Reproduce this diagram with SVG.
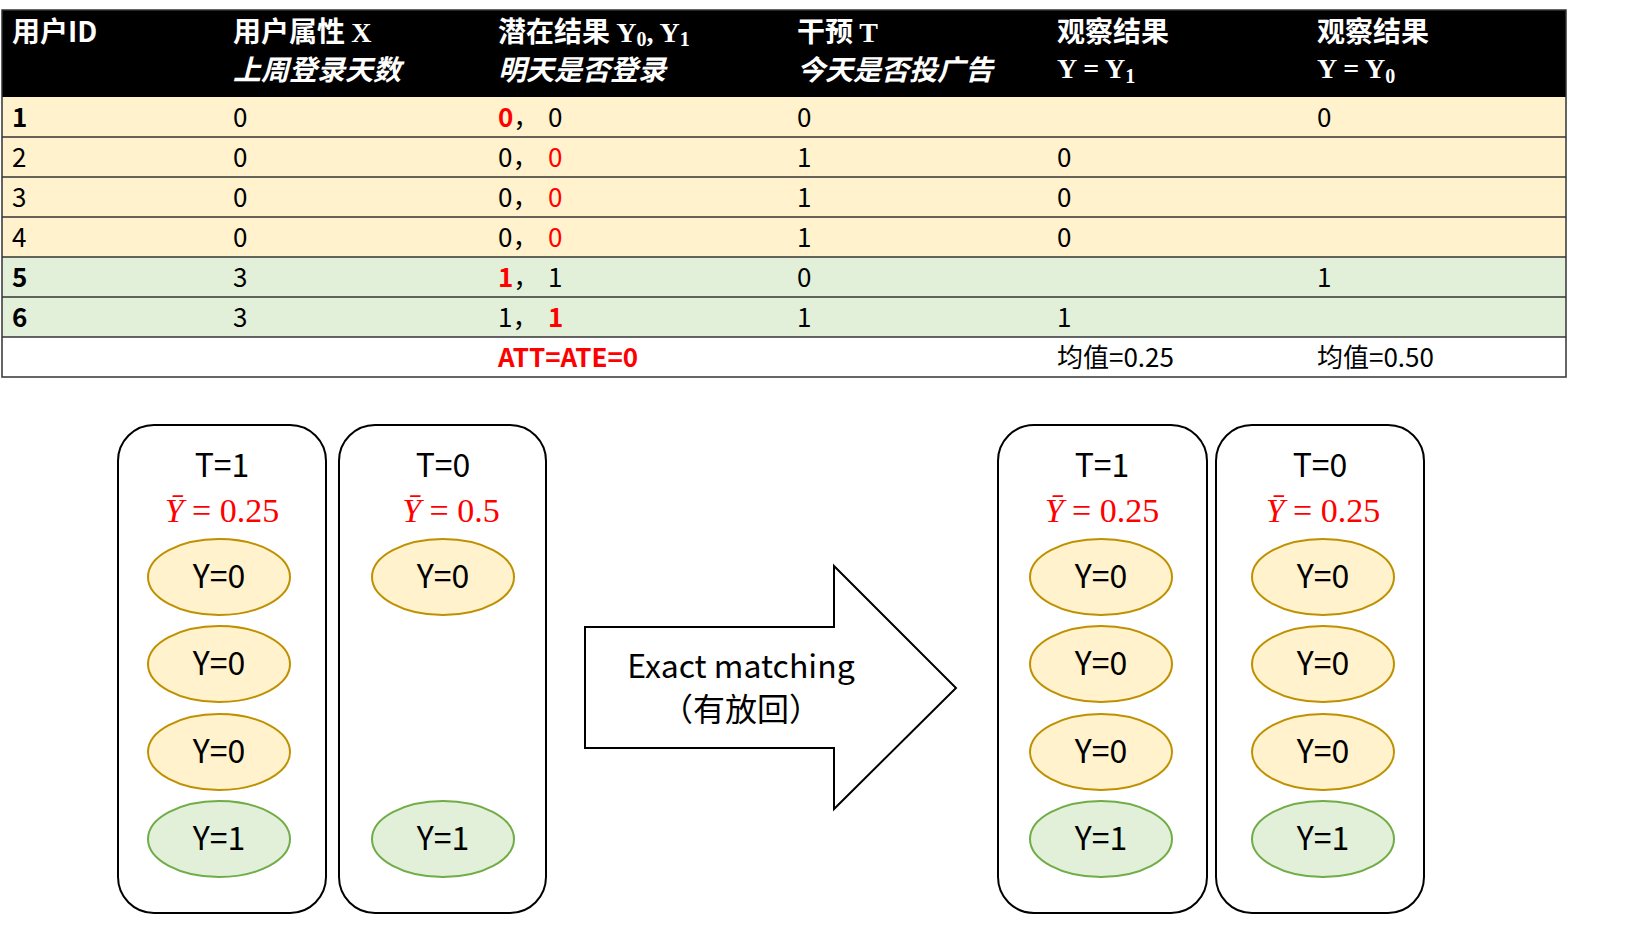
<svg xmlns="http://www.w3.org/2000/svg" width="1630" height="951" viewBox="0 0 1630 951">
<style>
.h{font-family:"Noto Sans CJK SC","Liberation Sans",sans-serif;font-size:28px;fill:#fff;font-weight:bold}
.hi{font-family:"Noto Sans CJK SC",sans-serif;font-size:28px;fill:#fff;font-style:italic;font-weight:bold}
.hs{font-family:"Liberation Serif",serif;font-size:28px;fill:#fff;font-weight:bold}
.c{font-family:"Noto Sans CJK SC","Liberation Sans",sans-serif;font-size:26px;fill:#000}
.b{font-weight:bold}
.r{fill:#f00}
.t{font-family:"Noto Sans CJK SC","Liberation Sans",sans-serif;font-size:32px;fill:#000;text-anchor:middle}
.m{font-family:"Liberation Serif",serif;font-size:34px;fill:#f00;text-anchor:middle}
.box{fill:#fff;stroke:#000;stroke-width:2}
.ey{fill:#FFF2CC;stroke:#BF9000;stroke-width:2}
.eg{fill:#E2F0D9;stroke:#70AD47;stroke-width:2}
</style>
<rect width="1630" height="951" fill="#fff"/>
<g id="table">
<rect x="2" y="10" width="1564" height="87" fill="#000"/>
<rect x="2" y="97" width="1564" height="160" fill="#FFF2CC"/>
<rect x="2" y="257" width="1564" height="80" fill="#E2F0D9"/>
<rect x="2" y="337" width="1564" height="40" fill="#fff"/>
<g stroke="#333" stroke-width="1.5" fill="none">
<rect x="2" y="10" width="1564" height="367"/>
<line x1="2" y1="137" x2="1566" y2="137"/><line x1="2" y1="177" x2="1566" y2="177"/>
<line x1="2" y1="217" x2="1566" y2="217"/><line x1="2" y1="257" x2="1566" y2="257"/>
<line x1="2" y1="297" x2="1566" y2="297"/><line x1="2" y1="337" x2="1566" y2="337"/>
</g>
<text x="12" y="42" class="h">用户ID</text>
<text x="233" y="42" class="h">用户属性 <tspan class="hs">X</tspan></text>
<text x="233" y="80" class="hi">上周登录天数</text>
<text x="498" y="42" class="h">潜在结果 <tspan class="hs">Y<tspan font-size="20" dy="4">0</tspan><tspan dy="-4">, Y</tspan><tspan font-size="20" dy="4">1</tspan></tspan></text>
<text x="498" y="80" class="hi">明天是否登录</text>
<text x="797" y="42" class="h">干预 <tspan class="hs">T</tspan></text>
<text x="797" y="80" class="hi">今天是否投广告</text>
<text x="1057" y="42" class="h">观察结果</text>
<text x="1057" y="78" class="hs">Y = Y<tspan font-size="20" dy="5">1</tspan></text>
<text x="1317" y="42" class="h">观察结果</text>
<text x="1317" y="78" class="hs">Y = Y<tspan font-size="20" dy="5">0</tspan></text>
<g class="c">
<text x="12" y="127" class="b">1</text><text x="233" y="127">0</text><text x="498" y="127"><tspan class="r b">0</tspan>，<tspan x="548">0</tspan></text><text x="797" y="127">0</text><text x="1317" y="127">0</text>
<text x="12" y="167">2</text><text x="233" y="167">0</text><text x="498" y="167">0，<tspan x="548" class="r">0</tspan></text><text x="797" y="167">1</text><text x="1057" y="167">0</text>
<text x="12" y="207">3</text><text x="233" y="207">0</text><text x="498" y="207">0，<tspan x="548" class="r">0</tspan></text><text x="797" y="207">1</text><text x="1057" y="207">0</text>
<text x="12" y="247">4</text><text x="233" y="247">0</text><text x="498" y="247">0，<tspan x="548" class="r">0</tspan></text><text x="797" y="247">1</text><text x="1057" y="247">0</text>
<text x="12" y="287" class="b">5</text><text x="233" y="287">3</text><text x="498" y="287"><tspan class="r b">1</tspan>，<tspan x="548">1</tspan></text><text x="797" y="287">0</text><text x="1317" y="287">1</text>
<text x="12" y="327" class="b">6</text><text x="233" y="327">3</text><text x="498" y="327">1，<tspan x="548" class="r b">1</tspan></text><text x="797" y="327">1</text><text x="1057" y="327">1</text>
<text x="498" y="367" class="r b">ATT=ATE=0</text><text x="1057" y="367">均值=0.25</text><text x="1317" y="367">均值=0.50</text>
</g>
</g>
<g id="connectors">
<polygon points="585,627 834,627 834,566 956,688 834,809 834,748 585,748" fill="#fff" stroke="#000" stroke-width="2"/>
<text x="741" y="678" class="t">Exact matching</text>
<text x="741" y="721" class="t">（有放回）</text>
</g>
<g id="g1"><rect class="box" x="118" y="425" width="208" height="488" rx="36"/>
<text x="222" y="477" class="t">T=1</text><text x="222" y="522" class="m"><tspan font-style="italic">Ȳ</tspan> = 0.25</text>
<ellipse class="ey" cx="219" cy="577" rx="71" ry="38"/><text x="219" y="588" class="t">Y=0</text>
<ellipse class="ey" cx="219" cy="664" rx="71" ry="38"/><text x="219" y="675" class="t">Y=0</text>
<ellipse class="ey" cx="219" cy="752" rx="71" ry="38"/><text x="219" y="763" class="t">Y=0</text>
<ellipse class="eg" cx="219" cy="839" rx="71" ry="38"/><text x="219" y="850" class="t">Y=1</text></g>
<g id="g2"><rect class="box" x="339" y="425" width="207" height="488" rx="36"/>
<text x="443" y="477" class="t">T=0</text><text x="451" y="522" class="m"><tspan font-style="italic">Ȳ</tspan> = 0.5</text>
<ellipse class="ey" cx="443" cy="577" rx="71" ry="38"/><text x="443" y="588" class="t">Y=0</text>
<ellipse class="eg" cx="443" cy="839" rx="71" ry="38"/><text x="443" y="850" class="t">Y=1</text></g>
<g id="g3"><rect class="box" x="998" y="425" width="209" height="488" rx="36"/>
<text x="1102" y="477" class="t">T=1</text><text x="1102" y="522" class="m"><tspan font-style="italic">Ȳ</tspan> = 0.25</text>
<ellipse class="ey" cx="1101" cy="577" rx="71" ry="38"/><text x="1101" y="588" class="t">Y=0</text>
<ellipse class="ey" cx="1101" cy="664" rx="71" ry="38"/><text x="1101" y="675" class="t">Y=0</text>
<ellipse class="ey" cx="1101" cy="752" rx="71" ry="38"/><text x="1101" y="763" class="t">Y=0</text>
<ellipse class="eg" cx="1101" cy="839" rx="71" ry="38"/><text x="1101" y="850" class="t">Y=1</text></g>
<g id="g4"><rect class="box" x="1216" y="425" width="208" height="488" rx="36"/>
<text x="1320" y="477" class="t">T=0</text><text x="1323" y="522" class="m"><tspan font-style="italic">Ȳ</tspan> = 0.25</text>
<ellipse class="ey" cx="1323" cy="577" rx="71" ry="38"/><text x="1323" y="588" class="t">Y=0</text>
<ellipse class="ey" cx="1323" cy="664" rx="71" ry="38"/><text x="1323" y="675" class="t">Y=0</text>
<ellipse class="ey" cx="1323" cy="752" rx="71" ry="38"/><text x="1323" y="763" class="t">Y=0</text>
<ellipse class="eg" cx="1323" cy="839" rx="71" ry="38"/><text x="1323" y="850" class="t">Y=1</text></g>
</svg>
